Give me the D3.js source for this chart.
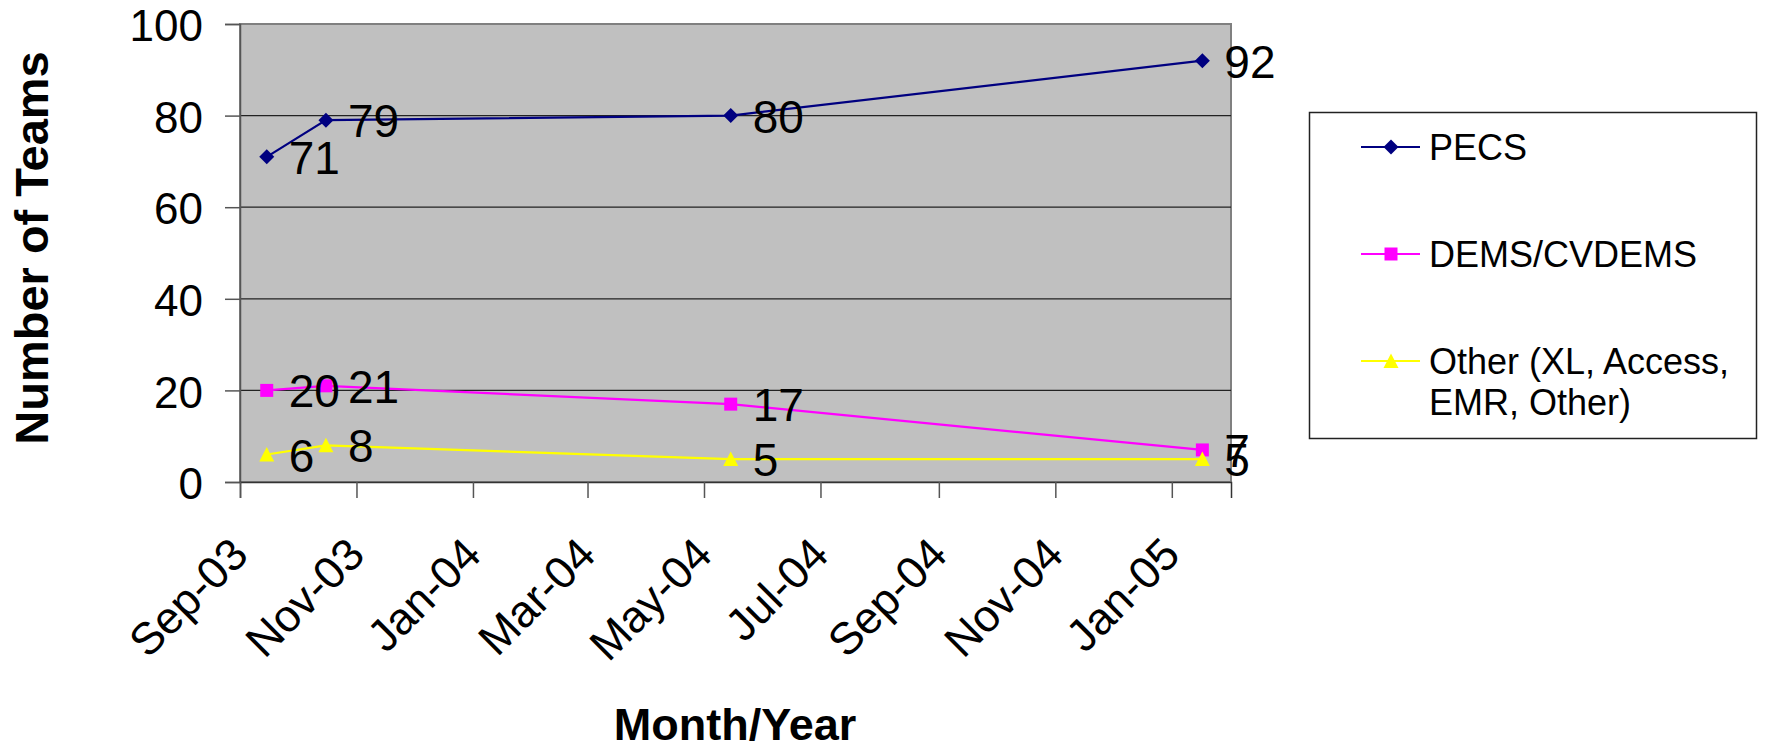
<!DOCTYPE html>
<html>
<head>
<meta charset="utf-8">
<script src="https://cdn.jsdelivr.net/npm/d3@7"></script>
<style>
  body { margin: 0; background: white; }
  text { font-family: "Liberation Sans", Arial, sans-serif; fill: black; }
</style>
</head>
<body>
<div id="team_chart"></div>
<script>

// data
let survey_dates = ["2003-09-15", "2003-10-16", "2004-05-15", "2005-01-17"];
let pecs_vals = [71, 79, 80, 92];
let dems_vals = [20, 21, 17, 7];
let other_vals = [6, 8, 5, 5];

let series_names = ["PECS", "DEMS/CVDEMS", "Other (XL, Access, EMR, Other)"];
let legend_lines = [["PECS"], ["DEMS/CVDEMS"], ["Other (XL, Access,", "EMR, Other)"]];

let y_ticks = [0, 20, 40, 60, 80, 100];
let x_ticks = ["2003-09-01", "2003-11-01", "2004-01-01", "2004-03-01", "2004-05-01",
               "2004-07-01", "2004-09-01", "2004-11-01", "2005-01-01"];
let x_domain = ["2003-09-01", "2005-02-01"];

let color_map = {
    "PECS": "#000080",
    "DEMS/CVDEMS": "#ff00ff",
    "Other (XL, Access, EMR, Other)": "#ffff00"
};

let marker_map = {
    "PECS": "M0,-7.5L7.5,0L0,7.5L-7.5,0Z",
    "DEMS/CVDEMS": "M-6.5,-6.5H6.5V6.5H-6.5Z",
    "Other (XL, Access, EMR, Other)": "M0,-7.5L7.5,7L-7.5,7Z"
};

let parse = d3.timeParse("%Y-%m-%d");
let fmt = d3.timeFormat("%b-%y");

function draw_team_chart() {

    let width = 1765;
    let height = 749;

    let svg = d3.select("#team_chart")
        .append("svg")
        .attr("width", width)
        .attr("height", height);

    let left = 240, right = 1231, top = 24, bottom = 482;

    let xScale = d3.scaleTime()
        .domain(x_domain.map(parse))
        .range([left, right]);

    let yScale = d3.scaleLinear()
        .domain([0, 100])
        .range([bottom, top]);

    // plot area
    svg.append("rect")
        .attr("x", left)
        .attr("y", top)
        .attr("width", right - left)
        .attr("height", bottom - top)
        .attr("fill", "#c0c0c0")
        .attr("stroke", "#808080")
        .attr("stroke-width", 2);

    // gridlines
    svg.append("g")
        .selectAll("line")
        .data(y_ticks.filter(function(d) { return d > 0 && d < 100; }))
        .enter()
        .append("line")
        .attr("x1", left)
        .attr("x2", right)
        .attr("y1", function(d) { return yScale(d); })
        .attr("y2", function(d) { return yScale(d); })
        .attr("stroke", "#222")
        .attr("stroke-width", 1.2);

    // y axis
    let y_axis = svg.append("g")
        .attr("transform", "translate(" + left + ",0)")
        .call(d3.axisLeft(yScale).tickValues(y_ticks).tickSize(15).tickPadding(22));
    y_axis.select(".domain").attr("stroke", "#555").attr("stroke-width", 1.5);
    y_axis.selectAll(".tick line").attr("stroke", "#555").attr("stroke-width", 1.5);
    y_axis.selectAll("text")
        .style("font-family", "'Liberation Sans', Arial, sans-serif")
        .style("font-size", "44px")
        .attr("fill", "black")
        .attr("dy", "0.38em");

    // x axis
    let x_axis = svg.append("g")
        .attr("transform", "translate(0," + bottom + ")")
        .call(d3.axisBottom(xScale).tickValues(x_ticks.map(parse)).tickSize(16).tickFormat(fmt));
    x_axis.select(".domain").attr("stroke", "#333").attr("stroke-width", 1.5);
    x_axis.selectAll(".tick line").attr("stroke", "#555").attr("stroke-width", 1.5);
    x_axis.selectAll("text")
        .style("font-family", "'Liberation Sans', Arial, sans-serif")
        .style("font-size", "45px")
        .attr("fill", "black")
        .attr("text-anchor", "end")
        .attr("x", 0)
        .attr("y", 0)
        .attr("dy", 0)
        .attr("transform", "translate(10,75) rotate(-45)");

    // series
    let series_data = [
        { "name": series_names[0], "values": pecs_vals },
        { "name": series_names[1], "values": dems_vals },
        { "name": series_names[2], "values": other_vals }
    ];

    let chart_line = d3.line()
        .x(function(d) { return xScale(d[0]); })
        .y(function(d) { return yScale(d[1]); });

    let chart = svg.append("g");

    for (let s of series_data) {
        let pts = s["values"].map(function(v, i) { return [parse(survey_dates[i]), v]; });

        chart.append("path")
            .attr("d", chart_line(pts))
            .attr("fill", "none")
            .attr("stroke", color_map[s["name"]])
            .attr("stroke-width", 2.2);

        chart.append("g")
            .selectAll("path")
            .data(pts)
            .enter()
            .append("path")
            .attr("d", marker_map[s["name"]])
            .attr("transform", function(d) {
                return "translate(" + xScale(d[0]) + "," + yScale(d[1]) + ")";
            })
            .attr("fill", color_map[s["name"]]);
    }

    // data labels on top
    for (let s of series_data) {
        let pts = s["values"].map(function(v, i) { return [parse(survey_dates[i]), v]; });
        chart.append("g")
            .selectAll("text")
            .data(pts)
            .enter()
            .append("text")
            .attr("x", function(d) { return xScale(d[0]) + 22; })
            .attr("y", function(d) { return yScale(d[1]); })
            .attr("dy", "0.37em")
            .style("font-size", "46px")
            .text(function(d) { return d[1]; });
    }

    // legend
    let legend = svg.append("g");
    legend.append("rect")
        .attr("x", 1309.5)
        .attr("y", 112.5)
        .attr("width", 447)
        .attr("height", 326)
        .attr("fill", "white")
        .attr("stroke", "#222")
        .attr("stroke-width", 1.5);

    let legend_y = [147, 254, 361];
    let items = legend.selectAll(".legend")
        .data(series_names)
        .enter()
        .append("g")
        .attr("class", "legend")
        .attr("transform", function(d, i) { return "translate(0," + legend_y[i] + ")"; });

    items.append("line")
        .attr("x1", 1361)
        .attr("x2", 1420)
        .attr("y1", 0)
        .attr("y2", 0)
        .attr("stroke", function(d) { return color_map[d]; })
        .attr("stroke-width", 2.2);

    items.append("path")
        .attr("d", function(d) { return marker_map[d]; })
        .attr("transform", "translate(1391,0)")
        .attr("fill", function(d) { return color_map[d]; });

    items.append("text")
        .attr("x", 1429)
        .attr("y", 0)
        .style("font-size", "36px")
        .selectAll("tspan")
        .data(function(d, i) { return legend_lines[i]; })
        .enter()
        .append("tspan")
        .attr("x", 1429)
        .attr("dy", function(d, i) { return i === 0 ? "0.36em" : 41; })
        .text(function(d) { return d; });

    // axis titles
    svg.append("text")
        .attr("text-anchor", "middle")
        .attr("x", 735)
        .attr("y", 740)
        .style("font-size", "45px")
        .style("font-weight", "bold")
        .text("Month/Year");

    svg.append("text")
        .attr("text-anchor", "middle")
        .attr("x", -248)
        .attr("y", 48)
        .attr("transform", "rotate(-90)")
        .style("font-size", "47px")
        .style("font-weight", "bold")
        .text("Number of Teams");
}

draw_team_chart();

</script>
</body>
</html>
